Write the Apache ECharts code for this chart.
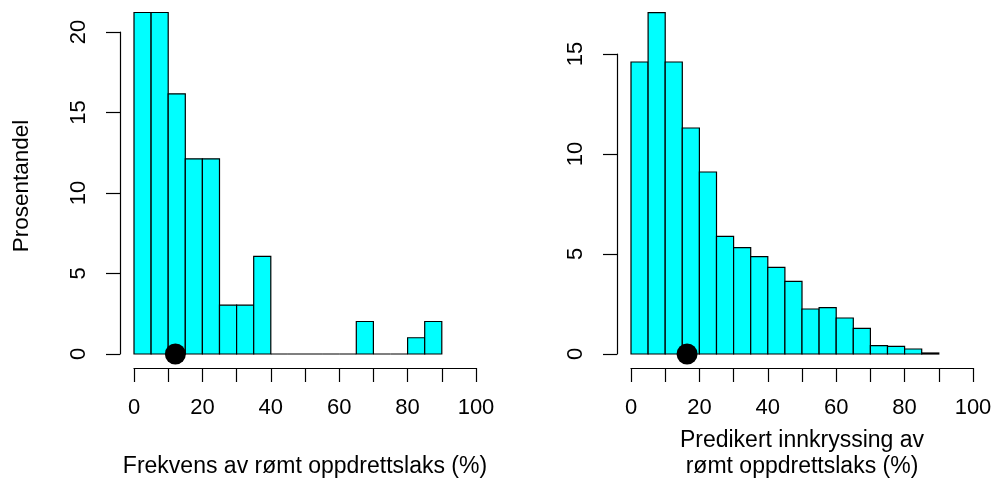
<!DOCTYPE html>
<html>
<head>
<meta charset="utf-8">
<script src="https://cdn.jsdelivr.net/npm/echarts@6/dist/echarts.min.js"></script>
<style>
  html, body { margin: 0; padding: 0; background: #fff; }
  #chart { width: 995px; height: 481px; }
</style>
</head>
<body>
<div id="chart"></div>
<script>
// Histogram bins (percent), width 5 from 0 to 90
const binStarts = [0, 5, 10, 15, 20, 25, 30, 35, 40, 45, 50, 55, 60, 65, 70, 75, 80, 85];
const binWidth = 5;

// Observed frequency of escaped farmed salmon (share of rivers, %)
const observedPct = [21.21, 21.21, 16.16, 12.12, 12.12, 3.03, 3.03, 6.06, 0, 0, 0, 0, 0, 2.02, 0, 0, 1.01, 2.02];

// Predicted introgression of escaped farmed salmon (share of rivers, %)
const predictedPct = [14.6, 17.07, 14.6, 11.3, 9.1, 5.88, 5.32, 4.87, 4.33, 3.63, 2.25, 2.32, 1.8, 1.28, 0.42, 0.38, 0.25, 0.05];

// Mean values marked on the x axis
const observedMean = 12.1;
const predictedMean = 16.4;

// Axis ticks
const xTicks = { min: 0, max: 100, interval: 10, labelStep: 20 };
const yTicksLeft = { min: 0, max: 20, interval: 5 };
const yTicksRight = { min: 0, max: 15, interval: 5 };

const FONT = '"Liberation Sans", Arial, Helvetica, sans-serif';
const FS = 22;
const FS_TITLE = 23;

function toBins(values) {
  return values.map((v, i) => [binStarts[i], binStarts[i] + binWidth, v]);
}

function renderBin(params, api) {
  const x0 = api.value(0), x1 = api.value(1), v = api.value(2);
  const top = api.coord([x0, v]);
  const base = api.coord([x1, 0]);
  return {
    type: 'rect',
    shape: { x: top[0], y: top[1], width: base[0] - top[0], height: base[1] - top[1] },
    style: { fill: '#00FFFF', stroke: '#000', lineWidth: 1.2 }
  };
}

function xAxisFor(gridIndex, title, gap) {
  return {
    type: 'value', gridIndex,
    min: xTicks.min, max: xTicks.max, interval: xTicks.interval,
    offset: 14,
    axisLine: { onZero: false, lineStyle: { color: '#000', width: 1.2 } },
    axisTick: { length: 14, lineStyle: { color: '#000', width: 1.2 } },
    axisLabel: {
      margin: 29, color: '#000', fontFamily: FONT, fontSize: FS,
      formatter: v => (v % xTicks.labelStep === 0 ? String(v) : '')
    },
    splitLine: { show: false },
    name: title, nameLocation: 'middle', nameGap: gap,
    nameTextStyle: { color: '#000', fontFamily: FONT, fontSize: FS_TITLE, lineHeight: 26 }
  };
}

function yAxisFor(gridIndex, t) {
  return {
    type: 'value', gridIndex,
    min: t.min, max: t.max, interval: t.interval,
    offset: 14,
    axisLine: { show: true, onZero: false, lineStyle: { color: '#000', width: 1.2 } },
    axisTick: { show: true, length: 14, lineStyle: { color: '#000', width: 1.2 } },
    axisLabel: { rotate: 90, margin: 30, color: '#000', fontFamily: FONT, fontSize: FS },
    splitLine: { show: false }
  };
}

const chart = echarts.init(document.getElementById('chart'), null, { renderer: 'canvas' });

chart.setOption({
  animation: false,
  backgroundColor: '#fff',
  grid: [
    { left: 134, width: 342, top: 32, height: 322, containLabel: false, outerBoundsMode: 'none' },
    { left: 631, width: 342, top: 54, height: 300, containLabel: false, outerBoundsMode: 'none' }
  ],
  xAxis: [
    xAxisFor(0, 'Frekvens av rømt oppdrettslaks (%)', 86),
    xAxisFor(1, 'Predikert innkryssing av\nrømt oppdrettslaks (%)', 60)
  ],
  yAxis: [
    yAxisFor(0, yTicksLeft),
    yAxisFor(1, yTicksRight)
  ],
  graphic: [{
    type: 'text',
    x: 22, y: 186,
    rotation: Math.PI / 2,
    style: {
      text: 'Prosentandel', fill: '#000',
      font: '22.5px ' + FONT,
      textAlign: 'center', textVerticalAlign: 'middle'
    }
  }],
  series: [
    {
      type: 'custom', xAxisIndex: 0, yAxisIndex: 0, clip: false,
      renderItem: renderBin, data: toBins(observedPct), encode: { x: [0, 1], y: 2 }
    },
    {
      type: 'custom', xAxisIndex: 1, yAxisIndex: 1, clip: false,
      renderItem: renderBin, data: toBins(predictedPct), encode: { x: [0, 1], y: 2 }
    },
    {
      type: 'scatter', xAxisIndex: 0, yAxisIndex: 0, clip: false, z: 5,
      symbol: 'circle', symbolSize: 21, itemStyle: { color: '#000', opacity: 1 },
      data: [[observedMean, 0]]
    },
    {
      type: 'scatter', xAxisIndex: 1, yAxisIndex: 1, clip: false, z: 5,
      symbol: 'circle', symbolSize: 21, itemStyle: { color: '#000', opacity: 1 },
      data: [[predictedMean, 0]]
    }
  ]
});
</script>
</body>
</html>
